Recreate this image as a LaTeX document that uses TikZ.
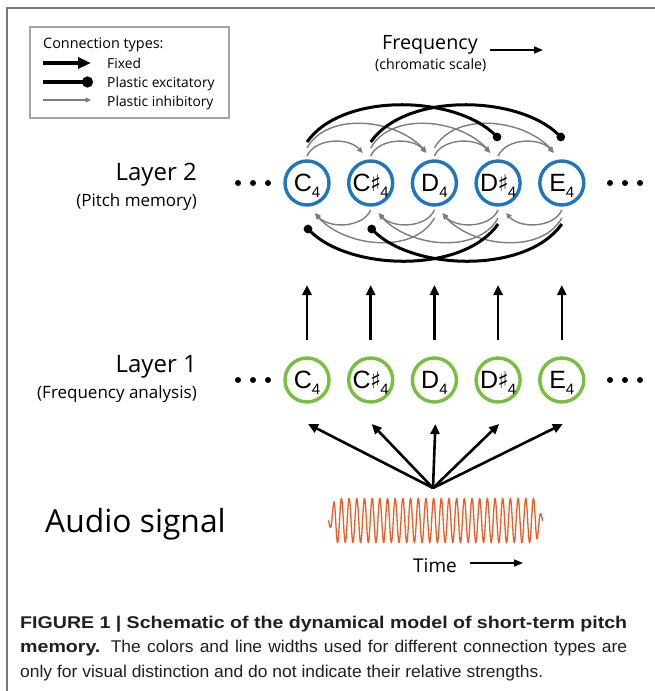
\documentclass[tikz,border=0pt]{standalone}
\usepackage{fontspec}
\setmainfont{Open Sans}
\newfontfamily\capreg[FakeStretch=1.027]{Liberation Sans}
\newfontfamily\capbold[FakeStretch=1.153]{Liberation Sans Bold}
\newfontfamily\notefont{Liberation Sans}
\newfontfamily\symfont{DejaVu Sans}
\usetikzlibrary{arrows.meta,calc}

\definecolor{nodeblue}{RGB}{32,118,190}
\definecolor{nodegreen}{RGB}{122,190,62}
\definecolor{wavecol}{RGB}{240,92,38}
\definecolor{inhibgray}{RGB}{125,125,125}
\definecolor{framegray}{RGB}{120,120,120}
\definecolor{legendgray}{RGB}{165,165,165}
\definecolor{captext}{RGB}{35,31,32}

% pitch label: letter, optional sharp, lowered octave number
\newcommand\notelabel[2]{\notefont\fontsize{25}{25}\selectfont #1#2\smash{\raisebox{-6pt}{\fontsize{15}{15}\selectfont 4}}}
\newcommand\sharpsign{{\symfont\fontsize{23}{23}\selectfont\kern-0.5pt\smash{♯}\kern-1pt}}
% justified caption line of fixed width
\newcommand\capjust[1]{\makebox[607pt][s]{#1}}

\begin{document}
\begin{tikzpicture}[x=1pt,y=1pt,
  pnode/.style={circle,minimum size=44pt,inner sep=0pt,line width=3.4pt},
  memnode/.style={pnode,draw=nodeblue},
  freqnode/.style={pnode,draw=nodegreen},
  fixedarrow/.style={line width=2.6pt,-{Triangle[length=10pt,width=9pt]}},
  excit/.style={line width=3pt,-{Circle[length=8.5pt]}},
  inhib/.style={draw=inhibgray,line width=1.4pt,-{Triangle[length=5.5pt,width=5pt]}},
  dotmark/.style={circle,fill=black,inner sep=0pt,minimum size=6pt},
  layerlabel/.style={anchor=base east,inner sep=0pt,font=\fontsize{24}{24}\selectfont},
  layersub/.style={anchor=base east,inner sep=0pt,font=\fontsize{17}{17}\selectfont},
  legendtext/.style={anchor=base west,inner sep=0pt,font=\fontsize{13.8}{13.8}\selectfont},
  captionline/.style={anchor=base west,inner sep=0pt,text=captext,font=\capreg\fontsize{17}{17}\selectfont}]

\useasboundingbox (0,0) rectangle (655,-691);
\fill[white] (0,0) rectangle (655,-691);

% frame
\draw[framegray,line width=1.5pt] (7,-691) -- (7,-8) -- (655,-8);

% legend
\draw[legendgray,line width=1.3pt] (30,-27) rectangle (229,-118);
\node[legendtext,font=\fontsize{14.4}{14.4}\selectfont] (legtitle) at (43,-48) {Connection types:};
\coordinate (lfa) at (43,-63); \coordinate (lfb) at (91,-63);
\draw[line width=3.5pt,-{Triangle[length=13pt,width=11pt]}] (lfa) -- (lfb);
\node[legendtext] (legfixed) at (107,-68) {Fixed};
\coordinate (lea) at (43,-82); \coordinate (leb) at (93,-82);
\draw[line width=3.5pt,-{Circle[length=11pt]}] (lea) -- (leb);
\node[legendtext] (legexc) at (107,-87) {Plastic excitatory};
\coordinate (lia) at (43,-100); \coordinate (lib) at (91,-100);
\draw[inhib] (lia) -- (lib);
\node[legendtext] (leginh) at (107,-106) {Plastic inhibitory};

% frequency axis
\node[anchor=base west,inner sep=0pt,font=\fontsize{19.7}{19.7}\selectfont] (freq) at (382,-49) {Frequency};
\node[anchor=base west,inner sep=0pt,font=\fontsize{14.2}{14.2}\selectfont] (chrom) at (375,-69) {(chromatic scale)};
\coordinate (fqa) at (490,-50); \coordinate (fqb) at (543,-50);
\draw[line width=1.5pt,-{Triangle[length=9pt,width=7pt]}] (fqa) -- (fqb);

% layer 2: pitch memory
\node[layerlabel] (lay2) at (197,-180) {Layer 2};
\node[layersub] (lay2s) at (197,-206) {(Pitch memory)};
\node[dotmark] (d2a) at (238,-183) {};
\node[dotmark] (d2b) at (253,-183) {};
\node[dotmark] (d2c) at (268,-183) {};
\node[memnode] (m1) at (307,-183) {\notelabel{C}{}};
\node[memnode] (m2) at (370.7,-183) {\notelabel{C}{\sharpsign}};
\node[memnode] (m3) at (434.4,-183) {\notelabel{D}{}};
\node[memnode] (m4) at (498.1,-183) {\notelabel{D}{\sharpsign}};
\node[memnode] (m5) at (561.8,-183) {\notelabel{E}{}};
\node[dotmark] (d2d) at (610,-183) {};
\node[dotmark] (d2e) at (625,-183) {};
\node[dotmark] (d2f) at (640,-183) {};

% layer 1: frequency analysis
\node[layerlabel] (lay1) at (197,-372) {Layer 1};
\node[layersub] (lay1s) at (197,-398) {(Frequency analysis)};
\node[dotmark] (d1a) at (238,-380) {};
\node[dotmark] (d1b) at (253,-380) {};
\node[dotmark] (d1c) at (268,-380) {};
\node[freqnode] (f1) at (307,-380) {\notelabel{C}{}};
\node[freqnode] (f2) at (370.7,-380) {\notelabel{C}{\sharpsign}};
\node[freqnode] (f3) at (434.4,-380) {\notelabel{D}{}};
\node[freqnode] (f4) at (498.1,-380) {\notelabel{D}{\sharpsign}};
\node[freqnode] (f5) at (561.8,-380) {\notelabel{E}{}};
\node[dotmark] (d1d) at (610,-380) {};
\node[dotmark] (d1e) at (625,-380) {};
\node[dotmark] (d1f) at (640,-380) {};

% inhibitory connections to the nearest and second-nearest neighbours
\foreach \a/\b in {m1/m2,m2/m3,m3/m4,m4/m5} {
  \draw[inhib] ($(\a)+(0,27)$) .. controls +(8,18) and +(-14,16) .. ($(\b)+(-8,30)$);
  \draw[inhib] ($(\b)+(0,-27)$) .. controls +(-8,-18) and +(14,-16) .. ($(\a)+(8,-30)$);
}
\foreach \a/\b in {m1/m3,m2/m4,m3/m5} {
  \draw[inhib] ($(\a)+(0,35)$) .. controls +(20,36) and +(-32,34) .. ($(\b)+(-8,31)$);
  \draw[inhib] ($(\b)+(0,-35)$) .. controls +(-20,-36) and +(32,-34) .. ($(\a)+(8,-31)$);
}
% excitatory connections three semitones apart
\foreach \a/\b in {m1/m4,m2/m5} {
  \draw[excit] ($(\a)+(0,41)$) .. controls +(35,50) and +(-45,45) .. ($(\b)+(2,43)$);
  \draw[excit] ($(\b)+(0,-41)$) .. controls +(-35,-50) and +(45,-45) .. ($(\a)+(-2,-43)$);
}

% fixed feed-forward connections
\foreach \i in {1,...,5}
  \draw[fixedarrow] ($(f\i)+(0,40)$) -- ($(m\i)+(0,-102)$);
\coordinate (src) at (433,-488);
\foreach \i in {1,...,5}
  \draw[fixedarrow] (src) -- ($(f\i)+(1,-44)$);

% audio input
\node[anchor=base west,inner sep=0pt,font=\fontsize{31.8}{31.8}\selectfont] (audio) at (45,-532) {Audio signal};
\draw[wavecol,line width=1.3pt] plot[domain=0:215,samples=1400]
  (\x+328,{-520.5-22*sin((\x/7.68)*360)*min(1,\x/7,(215-\x)/7)});
\node[anchor=base west,inner sep=0pt,font=\fontsize{19}{19}\selectfont] (time) at (413,-572) {Time};
\coordinate (tma) at (470,-563); \coordinate (tmb) at (523,-563);
\draw[line width=1.5pt,-{Triangle[length=9pt,width=7pt]}] (tma) -- (tmb);

% caption
\node[captionline] (cap1) at (20,-628) {\capjust{\capbold FIGURE 1 | Schematic of the dynamical model of short-term pitch}};
\node[captionline] (cap2) at (20,-652.5) {\capjust{{\capbold memory.} The colors and line widths used for different connection types are}};
\node[captionline] (cap3) at (20,-677) {only for visual distinction and do not indicate their relative strengths.};
\end{tikzpicture}
\end{document}
